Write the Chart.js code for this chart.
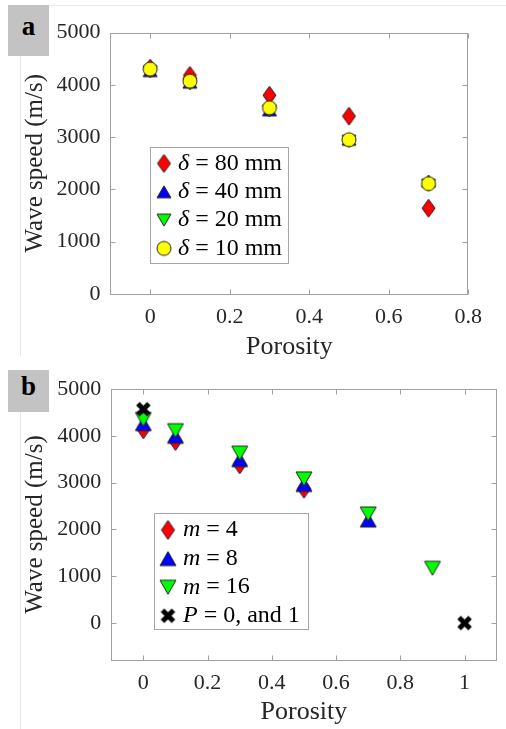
<!DOCTYPE html>
<html><head><meta charset="utf-8">
<script src="https://cdn.jsdelivr.net/npm/chart.js@4"></script>
<style>
html,body{margin:0;padding:0;background:#fff;width:506px;height:729px;overflow:hidden;}
#wrap{position:relative;width:506px;height:729px;}
canvas{position:absolute;left:0;}
#ca{top:0;} #cb{top:365px;}
.box{position:absolute;background:#c3c3c3;}
.tag{position:absolute;font-family:'Liberation Serif','Times New Roman',serif;font-weight:bold;font-size:27px;line-height:27px;color:#000;width:41px;text-align:center;}
.fl{position:absolute;background:#e8e8e8;}
.pre{position:absolute;left:-1000px;top:0;font-family:'Liberation Serif';}
</style></head><body>
<div id="wrap">
<span class="pre">Porosity 0.2 <i>δ m P</i></span>
<div class="fl" style="left:49px;top:5px;width:457px;height:1px"></div>
<div class="fl" style="left:20px;top:56px;width:1px;height:300px"></div>
<div class="fl" style="left:20px;top:412px;width:1px;height:317px"></div>
<div class="box" style="left:8px;top:5px;width:41px;height:51px"></div>
<div class="tag" style="left:8px;top:13px">a</div>
<div class="box" style="left:8px;top:370px;width:41px;height:42px"></div>
<div class="tag" style="left:8px;top:373px">b</div>
<canvas id="ca" width="506" height="365"></canvas>
<canvas id="cb" width="506" height="364"></canvas>
</div>
<script>
// ---------- data ----------
const porosityA = [0, 0.1, 0.3, 0.5, 0.7];
const speedD80 = [4320, 4180, 3800, 3400, 1640];
const speedD40 = [4270, 4050, 3520, 2960, 2160];
const speedD20 = [4250, 4020, 3500, 2920, 2080];
const speedD10 = [4300, 4070, 3560, 2950, 2110];

const porosityB = [0, 0.1, 0.3, 0.5, 0.7, 0.9];
const speedM4  = [4140, 3890, 3390, 2870, null, null];
const speedM8  = [4260, 3990, 3490, 2960, 2200, null];
const speedM16 = [4350, 4110, 3630, 3080, 2330, 1170];
const porosityP = [0, 1];
const speedP = [4570, 0];

const xTicksA = [0, 0.2, 0.4, 0.6, 0.8];
const xTicksB = [0, 0.2, 0.4, 0.6, 0.8, 1];
const yTicks = [0, 1000, 2000, 3000, 4000, 5000];

const labelsA = ['δ = 80 mm', 'δ = 40 mm', 'δ = 20 mm', 'δ = 10 mm'];
const labelsB = ['m = 4', 'm = 8', 'm = 16', 'P = 0, and 1'];

// ---------- helpers ----------
const FONT = '"Liberation Serif", "Times New Roman", serif';
const TXT = '#262626';
function marker(kind, w, h, fill){
  const pad = 2;
  const c = document.createElement('canvas');
  c.width = w + 2*pad; c.height = h + 2*pad;
  const g = c.getContext('2d');
  g.translate(pad, pad);
  g.fillStyle = fill; g.strokeStyle = '#222'; g.lineWidth = 1;
  g.beginPath();
  if (kind === 'diamond'){ g.moveTo(w/2,0); g.lineTo(w,h/2); g.lineTo(w/2,h); g.lineTo(0,h/2); g.closePath(); }
  else if (kind === 'up'){ g.moveTo(w/2,0); g.lineTo(w,h); g.lineTo(0,h); g.closePath(); }
  else if (kind === 'down'){ g.moveTo(0,0); g.lineTo(w,0); g.lineTo(w/2,h); g.closePath(); }
  else if (kind === 'circle'){ g.arc(w/2,h/2,w/2,0,Math.PI*2); }
  if (kind === 'x'){
    g.strokeStyle = fill; g.lineWidth = 5;
    g.moveTo(2,2); g.lineTo(w-2,h-2); g.moveTo(w-2,2); g.lineTo(2,h-2); g.stroke();
  } else { g.fill(); g.stroke(); }
  return c;
}
function pts(xs, ys){ return xs.map((x,i)=>({x:x, y:ys[i]})).filter(p=>p.y!==null); }

const framePlugin = {
  id:'frame',
  beforeDatasetsDraw(chart, args, o){
    const {ctx, chartArea:a} = chart;
    const x = chart.scales.x, y = chart.scales.y;
    ctx.save();
    ctx.strokeStyle = '#a0a0a0'; ctx.lineWidth = 1;
    const L = Math.round(a.left)+0.5, R = Math.round(a.right)-0.5, T = Math.round(a.top)+0.5, B = Math.round(a.bottom)+0.5;
    ctx.strokeRect(L, T, R-L, B-T);
    ctx.beginPath();
    x.ticks.forEach(t=>{
      const px = Math.round(x.getPixelForValue(t.value))+0.5;
      ctx.moveTo(px,B); ctx.lineTo(px,B-o.len);
      ctx.moveTo(px,T); ctx.lineTo(px,T+o.len);
    });
    y.ticks.forEach(t=>{
      const py = Math.round(y.getPixelForValue(t.value))+0.5;
      ctx.moveTo(L,py); ctx.lineTo(L+o.len,py);
      ctx.moveTo(R,py); ctx.lineTo(R-o.len,py);
    });
    ctx.stroke();
    ctx.restore();
  }
};
const legendPlugin = {
  id:'boxLegend',
  afterDatasetsDraw(chart, args, o){
    const ctx = chart.ctx;
    ctx.save();
    ctx.fillStyle = '#fff'; ctx.strokeStyle = '#a6a6a6'; ctx.lineWidth = 1;
    ctx.fillRect(o.x, o.y, o.w, o.h);
    ctx.strokeRect(o.x+0.5, o.y+0.5, o.w, o.h);
    chart.data.datasets.forEach((ds,i)=>{
      const yy = o.y0 + i*o.step;
      const img = ds.pointStyle;
      ctx.drawImage(img, o.mx - img.width/2, yy - img.height/2);
      ctx.textBaseline = 'middle'; ctx.fillStyle = '#000';
      ctx.font = 'italic ' + o.size + 'px ' + FONT;
      const first = ds.label[0];
      ctx.fillText(first, o.tx, yy);
      const w = ctx.measureText(first).width;
      ctx.font = o.size + 'px ' + FONT;
      ctx.fillText(ds.label.slice(1), o.tx + w + o.gap, yy);
    });
    ctx.restore();
  }
};
function scales(xmin, xmax, xt, ymin, ymax, xh, yw, tickPadX, titlePadX){
  return {
    x:{ type:'linear', min:xmin, max:xmax,
      afterBuildTicks:s=>{ s.ticks = xt.map(v=>({value:v})); },
      afterFit:s=>{ s.height = xh; },
      grid:{display:false, drawTicks:false}, border:{display:false},
      ticks:{autoSkip:false, maxRotation:0, padding:tickPadX, color:TXT, font:{family:FONT, size:22, lineHeight:1}, callback:v=>String(v)},
      title:{display:true, text:'Porosity', color:TXT, font:{family:FONT, size:26, lineHeight:1}, padding:{top:0, bottom:titlePadX}}
    },
    y:{ type:'linear', min:ymin, max:ymax,
      afterBuildTicks:s=>{ s.ticks = yTicks.map(v=>({value:v})); },
      afterFit:s=>{ s.width = yw; },
      grid:{display:false, drawTicks:false}, border:{display:false},
      ticks:{autoSkip:false, padding:10, color:TXT, font:{family:FONT, size:22, lineHeight:1}, callback:v=>String(v)},
      title:{display:true, text:'Wave speed (m/s)', color:TXT, font:{family:FONT, size:25, lineHeight:1}, padding:{top:22.5, bottom:0}}
    }
  };
}
const common = {responsive:false, animation:false, events:[]};

function draw(){
  // ---------- panel a ----------
  new Chart(document.getElementById('ca'), {
    type:'scatter',
    data:{ datasets:[
      {label:labelsA[0], data:pts(porosityA, speedD80), pointStyle:marker('diamond',13,18,'#ff0000'), order:3},
      {label:labelsA[1], data:pts(porosityA, speedD40), pointStyle:marker('up',14,12,'#0000ff'), order:2},
      {label:labelsA[2], data:pts(porosityA, speedD20), pointStyle:marker('down',14,12,'#00ff00'), order:1},
      {label:labelsA[3], data:pts(porosityA, speedD10), pointStyle:marker('circle',14,14,'#ffff00'), order:0}
    ]},
    options:Object.assign({}, common, {
      layout:{padding:{top:32.5, right:37.7, left:0, bottom:0}},
      scales:scales(-0.1, 0.8, xTicksA, 0, 5000, 71, 110.4, 12, 5),
      plugins:{legend:{display:false}, tooltip:{enabled:false},
        frame:{len:5},
        boxLegend:{x:150, y:147, w:138, h:116, y0:163.5, step:28.3, mx:164, tx:178, size:24, gap:0}}
    }),
    plugins:[framePlugin, legendPlugin]
  });

  // ---------- panel b ----------
  new Chart(document.getElementById('cb'), {
    type:'scatter',
    data:{ datasets:[
      {label:labelsB[0], data:pts(porosityB, speedM4), pointStyle:marker('diamond',13,19,'#ff0000'), order:3},
      {label:labelsB[1], data:pts(porosityB, speedM8), pointStyle:marker('up',16,14,'#0000ff'), order:2},
      {label:labelsB[2], data:pts(porosityB, speedM16), pointStyle:marker('down',16,14,'#00ff00'), order:1},
      {label:labelsB[3], data:pts(porosityP, speedP), pointStyle:marker('x',15,15,'#000000'), order:0}
    ]},
    options:Object.assign({}, common, {
      layout:{padding:{top:24, right:9.3, left:0, bottom:0}},
      scales:scales(-0.1, 1.1, xTicksB, -790, 5000, 69, 111.2, 12, 4),
      plugins:{legend:{display:false}, tooltip:{enabled:false},
        frame:{len:5},
        boxLegend:{x:154, y:148, w:154, h:116, y0:165, step:28.6, mx:168, tx:183, size:24, gap:0}}
    }),
    plugins:[framePlugin, legendPlugin]
  });
}
const loads = [
  document.fonts.load('22px "Liberation Serif"'),
  document.fonts.load('italic 24px "Liberation Serif"'),
  document.fonts.load('bold 27px "Liberation Serif"')
];
Promise.all(loads).then(draw, draw);
</script>
</body></html>
